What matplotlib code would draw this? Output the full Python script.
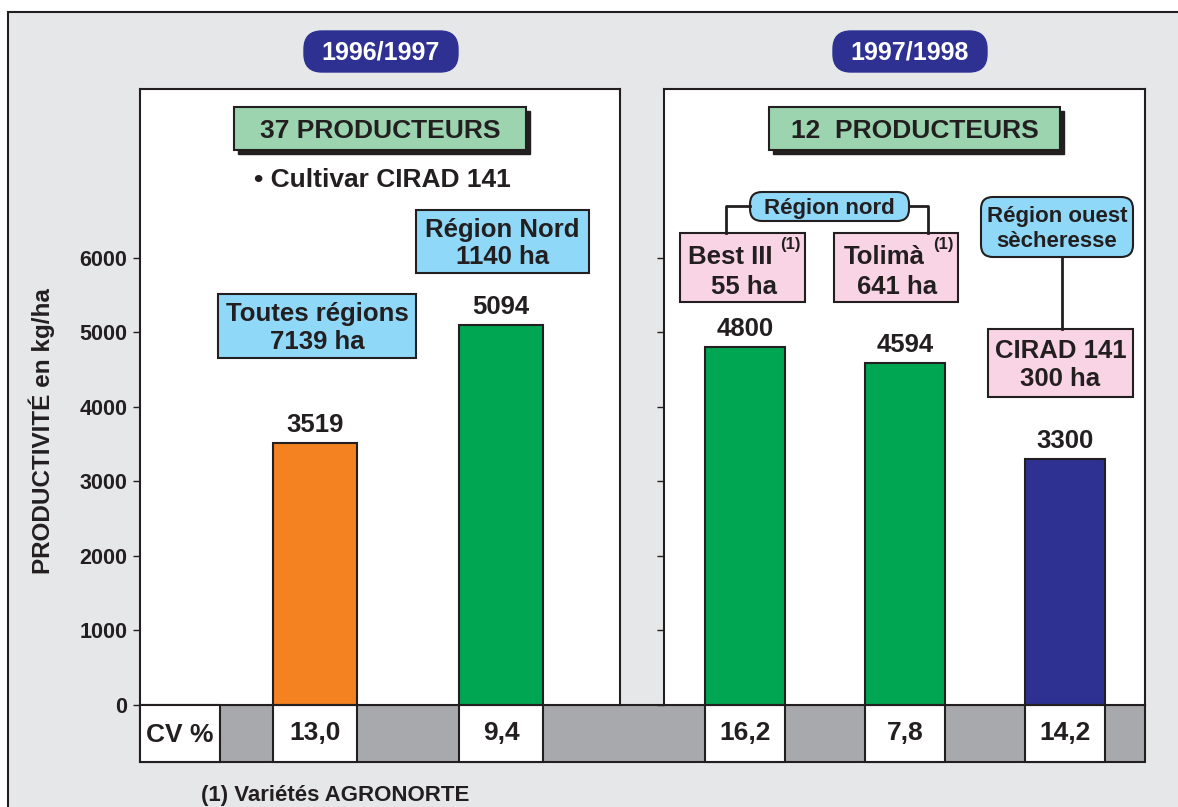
import matplotlib
matplotlib.use('Agg')
import matplotlib.pyplot as plt
import matplotlib.transforms as mtransforms
from matplotlib.patches import Rectangle, FancyBboxPatch

plt.rcParams['font.family'] = ['Liberation Sans', 'DejaVu Sans']
plt.rcParams['font.weight'] = 'bold'

# chart data
seasons = ['1996/1997', '1997/1998']
producers = ['37 PRODUCTEURS', '12  PRODUCTEURS']
left_values = [3519, 5094]
left_cv = ['13,0', '9,4']
left_colors = ['#f58220', '#00a651']
right_values = [4800, 4594, 3300]
right_cv = ['16,2', '7,8', '14,2']
right_colors = ['#00a651', '#00a651', '#2e3192']
yticks = [0, 1000, 2000, 3000, 4000, 5000, 6000]

W, H = 1178, 807
EDGE = '#231f20'
BG = '#e6e7e8'
CELL_GREY = '#a7a9ac'
LBLUE = '#8fd8f8'
PINK = '#f9d4e4'
LGREEN = '#9bd4af'
BIG = 18.5

fig = plt.figure(figsize=(W / 100, H / 100), dpi=100, facecolor='white')


def px_axes(x0, y0, x1, y1, z):
    return fig.add_axes([x0 / W, 1 - y1 / H, (x1 - x0) / W, (y1 - y0) / H], zorder=z)


# background layer (pixel coordinates)
back = fig.add_axes([0, 0, 1, 1], zorder=0)
back.set_xlim(0, W)
back.set_ylim(H, 0)
back.axis('off')
back.add_patch(Rectangle((8, 12), 1300, 900, fc=BG, ec=EDGE, lw=1.5))
back.add_patch(Rectangle((140, 705), 1005, 57, fc=CELL_GREY, ec=EDGE, lw=1.5))
for cx, s in zip([381, 910], seasons):
    back.add_patch(FancyBboxPatch((cx - 77, 31), 154, 41,
                                  boxstyle='round,pad=0,rounding_size=18',
                                  fc='#2e3192', ec='#2e3192'))
    back.text(cx, 53, s, color='white', fontsize=18, ha='center', va='center')

# panel axes
ax1 = px_axes(140, 89, 620, 705, 1)
ax2 = px_axes(664, 89, 1145, 705, 1)
ymax = 8268
ax1.set_xlim(-0.941, 1.640)
ax2.set_xlim(-0.506, 2.5)

panels = [(ax1, left_values, left_colors, left_cv, 0.452),
          (ax2, right_values, right_colors, right_cv, 0.5)]
row_h = 57 / 616
for ax, vals, cols, cvs, bw in panels:
    ax.set_ylim(0, ymax)
    ax.set_facecolor('white')
    pos = list(range(len(vals)))
    ax.bar(pos, vals, width=bw, color=cols, edgecolor=EDGE, linewidth=1.5, zorder=2)
    for p, v in zip(pos, vals):
        ax.text(p, v + 150, str(v), ha='center', va='baseline', fontsize=BIG, color=EDGE)
    trans = mtransforms.blended_transform_factory(ax.transData, ax.transAxes)
    for p, c in zip(pos, cvs):
        ax.add_patch(Rectangle((p - bw / 2, -row_h), bw, row_h, transform=trans,
                               fc='white', ec=EDGE, lw=1.5, clip_on=False))
        ax.text(p, -row_h / 2, c, transform=trans, ha='center', va='center',
                fontsize=19, color=EDGE)
    ax.set_xticks([])
    ax.set_yticks(yticks)
    for sp in ax.spines.values():
        sp.set_color(EDGE)
        sp.set_linewidth(1.5)
    ax.tick_params(axis='y', direction='out', length=5, width=1, color=EDGE,
                   labelsize=15.5, labelcolor=EDGE, pad=4)

ax2.set_yticklabels([])
ax1.set_ylabel('PRODUCTIVITÉ en kg/ha', fontsize=17.5, fontweight='bold', color=EDGE)
ax1.yaxis.set_label_coords(-0.178, 0.445)

# front layer for labels
front = fig.add_axes([0, 0, 1, 1], zorder=3)
front.set_xlim(0, W)
front.set_ylim(H, 0)
front.axis('off')
front.patch.set_alpha(0)


def box(x0, y0, x1, y1, fc, lines=None, size=BIG, round_=False, shadow=False):
    if shadow:
        front.add_patch(Rectangle((x0 + 4, y0 + 4), x1 - x0, y1 - y0, fc=EDGE, ec=EDGE, lw=1))
    if round_:
        front.add_patch(FancyBboxPatch((x0, y0), x1 - x0, y1 - y0,
                                       boxstyle='round,pad=0,rounding_size=12',
                                       fc=fc, ec=EDGE, lw=1.5))
    else:
        front.add_patch(Rectangle((x0, y0), x1 - x0, y1 - y0, fc=fc, ec=EDGE, lw=1.5))
    if lines:
        front.text((x0 + x1) / 2, (y0 + y1) / 2 + 2, lines, ha='center', va='center',
                   fontsize=size, color=EDGE, linespacing=1.2)


box(234, 107, 526, 150, LGREEN, producers[0], 19, shadow=True)
box(769, 107, 1060, 150, LGREEN, producers[1], 19, shadow=True)
front.text(254, 180, '• Cultivar CIRAD 141', ha='left', va='center', fontsize=19, color=EDGE)
box(218, 294, 416, 358, LBLUE, 'Toutes régions\n7139 ha')
box(416, 210, 589, 273, LBLUE, 'Région Nord\n1140 ha')

# region nord bracket
front.plot([750, 726, 726], [206, 206, 233], color=EDGE, lw=2)
front.plot([909, 928, 928], [206, 206, 233], color=EDGE, lw=2)
box(750, 192, 909, 221, LBLUE, 'Région nord', 16, round_=True)
box(680, 233, 805, 302, PINK)
front.text(730, 257, 'Best III', ha='center', va='center', fontsize=BIG, color=EDGE)
front.text(744, 287, '55 ha', ha='center', va='center', fontsize=BIG, color=EDGE)
front.text(790, 244, '(1)', ha='center', va='center', fontsize=12, color=EDGE)
box(834, 233, 958, 302, PINK)
front.text(884, 257, 'Tolimà', ha='center', va='center', fontsize=BIG, color=EDGE)
front.text(897, 287, '641 ha', ha='center', va='center', fontsize=BIG, color=EDGE)
front.text(943, 244, '(1)', ha='center', va='center', fontsize=12, color=EDGE)

# region ouest
front.plot([1062, 1062], [257, 329], color=EDGE, lw=2)
box(981, 197, 1133, 257, LBLUE, 'Région ouest\nsècheresse', 16, round_=True)
box(988, 329, 1133, 397, PINK, 'CIRAD 141\n300 ha')

# CV label cell and footnote
box(140, 705, 220, 762, 'white', 'CV %', 19)
front.text(201, 795, '(1) Variétés AGRONORTE', ha='left', va='center', fontsize=16, color=EDGE)

fig.savefig('out.png', dpi=100, facecolor='white')
